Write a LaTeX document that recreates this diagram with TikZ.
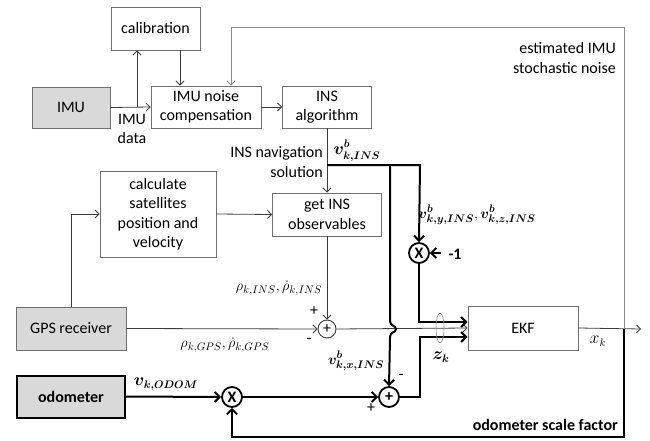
\documentclass[tikz,border=0pt]{standalone}
\usepackage{fontspec}
\setmainfont{Carlito}
\usepackage{amsmath}
\usetikzlibrary{arrows.meta}
\definecolor{boxc}{HTML}{707070}
\definecolor{linec}{HTML}{3C3C3C}
\definecolor{fbc}{HTML}{8A8A8A}
\definecolor{fillc}{HTML}{D9D9D9}
\tikzset{
  box/.style={draw=boxc, line width=0.9pt, inner sep=0pt, align=center},
  gbox/.style={box, fill=fillc},
  thinarr/.style={draw=linec, line width=0.8pt, -{Straight Barb[length=4pt,width=8pt]}},
  thinline/.style={draw=linec, line width=0.8pt},
  fbarr/.style={draw=fbc, line width=0.9pt, -{Straight Barb[length=4pt,width=8pt]}},
  thkarr/.style={draw=black, line width=2pt, -{Straight Barb[length=5pt,width=10pt]}},
  thkline/.style={draw=black, line width=2pt},
  opnode/.style={circle, draw=black, line width=1.8pt, minimum size=20pt, inner sep=0pt, font=\fontsize{16}{16}\selectfont\bfseries},
  lbl/.style={inner sep=0pt, align=center},
  mlbl/.style={inner sep=0pt, align=center, font=\fontsize{15}{18}\selectfont},
}
\begin{document}
\begin{tikzpicture}[x=1pt,y=-1pt, font=\fontsize{16}{19.5}\selectfont]
\useasboundingbox (0,0) rectangle (650,441);
% boxes
\node[box, minimum width=89pt, minimum height=43pt] (cal) at (155.5,28.5) {calibration};
\node[gbox, minimum width=78pt, minimum height=41pt] (imu) at (71,107.5) {IMU};
\node[box, minimum width=110pt, minimum height=42pt] (nc) at (206,107) {IMU noise\\compensation};
\node[box, minimum width=89pt, minimum height=42pt] (ins) at (327,107) {INS\\algorithm};
\node[box, minimum width=116pt, minimum height=86pt] (sat) at (158,214) {calculate\\satellites\\position and\\velocity};
\node[box, minimum width=109pt, minimum height=43pt] (obs) at (327,214.5) {get INS\\observables};
\node[gbox, minimum width=110pt, minimum height=43pt] (gps) at (71,328.5) {GPS receiver};
\node[gbox, draw=black, line width=2pt, minimum width=108pt, minimum height=42pt, font=\fontsize{16}{19.5}\selectfont\bfseries] (odo) at (71,396.5) {odometer};
\node[box, minimum width=110pt, minimum height=44pt] (ekf) at (523,328) {EKF};
% operators
\node[circle, draw=linec, line width=0.9pt, minimum size=18pt, inner sep=0pt] (s1) at (327,329) {+};
\node[opnode] (m1) at (419,253) {X};
\node[opnode] (s2) at (389,397) {+};
\node[opnode] (m2) at (232,397) {X};
% coordinates
\coordinate (br) at (137,107.5);
\coordinate (vtop) at (327,165);
\coordinate (vA) at (390,165);
\coordinate (vB) at (420,165);
\coordinate (fbR) at (624,329);
\coordinate (fbT) at (624,27);
\coordinate (fbL) at (231,27);
\coordinate (osR) at (624,437);
\coordinate (osL) at (232,437);
\coordinate (outE) at (641,329);
\coordinate (mone) at (441,253);
% thin connectors
\draw[thinarr] (imu.east) -- (nc.west);
\draw[thinarr] (br) -- (br |- cal.south);
\draw[thinarr] ([xshift=24.5pt]cal.south) -- ([xshift=24.5pt]cal.south |- nc.north);
\draw[thinarr] (nc.east) -- (ins.west);
\draw[thinarr] (ins.south) -- (obs.north);
\draw[thinarr] (gps.north) |- (sat.west);
\draw[thinarr] (sat.east) -- (obs.west);
\draw[thinarr] (obs.south) -- (s1.north);
\draw[thinarr] (gps.east) -- (s1.west);
\draw[thinarr] (s1.east) -- (ekf.west);
\draw[thinarr] (ekf.east) -- (outE);
\draw[fbarr] (fbR) -- (fbT) -- (fbL) -- (fbL |- nc.north);
% thick connectors
\draw[thkarr] (vtop) -- (vB) -- (m1.north);
\draw[thkarr] (vA) -- (390,320) .. controls (390,327) and (396,325) .. (396,329) .. controls (396,333) and (390,331) .. (390,338) -- (s2.north);
\draw[thkarr] (mone) -- (m1.east);
\draw[thkarr] (m1.south) -- (419,322) -- (ekf.west |- 0,322);
\draw[thkarr] (s2.east) -- (420,397) -- (420,337) -- (ekf.west |- 0,337);
\draw[thkarr] (odo.east) -- (m2.west);
\draw[thkarr] (m2.east) -- (s2.west);
\draw[thkarr] (fbR) -- (osR) -- (osL) -- (m2.south);
% ellipse around z_k
\draw[fbc, line width=0.6pt] (440,328) ellipse (4pt and 15pt);
% labels
\node[lbl] (limu) at (132,129) {IMU\\data};
\node[lbl, anchor=east, align=right] (lnav) at (323,162) {INS navigation\\solution};
\node[lbl] (lv) at (357,151) {$\boldsymbol{v^{b}_{k,INS}}$};
\node[mlbl] (lvyz) at (477,215) {$\boldsymbol{v^{b}_{k,y,INS}},\boldsymbol{v^{b}_{k,z,INS}}$};
\node[lbl, font=\fontsize{16}{19.5}\selectfont\bfseries] (lm1) at (455,254) {-1};
\node[mlbl] (lrins) at (279,288) {$\rho_{k,INS},\dot{\rho}_{k,INS}$};
\node[lbl] (lp1) at (314,311) {+};
\node[lbl] (lm1s) at (309,341) {-};
\node[mlbl] (lrgps) at (225,345) {$\rho_{k,GPS},\dot{\rho}_{k,GPS}$};
\node[lbl] (lodo) at (166,384) {$\boldsymbol{v_{k,ODOM}}$};
\node[mlbl] (lvx) at (356,361) {$\boldsymbol{v^{b}_{k,x,INS}}$};
\node[lbl] (lp2) at (371,408) {+};
\node[lbl] (lm2) at (401,377) {-};
\node[lbl] (lz) at (441,357) {$\boldsymbol{z_{k}}$};
\node[lbl] (lx) at (598,341) {$x_{k}$};
\node[lbl, anchor=east, align=right] (lest) at (616,58) {estimated IMU\\stochastic noise};
\node[lbl, anchor=east, font=\fontsize{16}{19.5}\selectfont\bfseries] (lsf) at (618,425) {odometer scale factor};
\end{tikzpicture}
\end{document}
